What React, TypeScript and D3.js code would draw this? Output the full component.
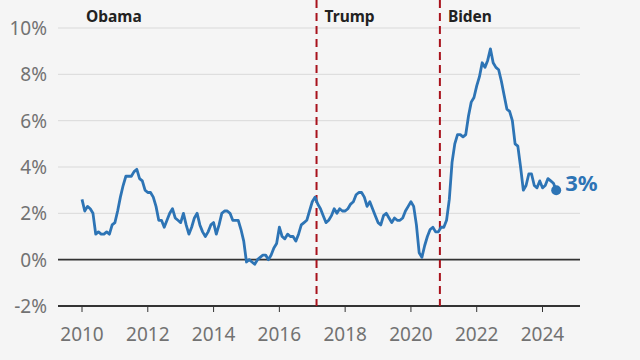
import { useEffect, useRef } from "react";
import * as d3 from "d3";

// US CPI inflation, year on year, monthly from Jan 2010
const years = [2010, 2011, 2012, 2013, 2014, 2015, 2016, 2017, 2018, 2019, 2020, 2021, 2022, 2023, 2024];
const monthly: number[][] = [
  [2.6, 2.1, 2.3, 2.2, 2.0, 1.1, 1.2, 1.1, 1.1, 1.2, 1.1, 1.5],
  [1.6, 2.1, 2.7, 3.2, 3.6, 3.6, 3.6, 3.8, 3.9, 3.5, 3.4, 3.0],
  [2.9, 2.9, 2.7, 2.3, 1.7, 1.7, 1.4, 1.7, 2.0, 2.2, 1.8, 1.7],
  [1.6, 2.0, 1.5, 1.1, 1.4, 1.8, 2.0, 1.5, 1.2, 1.0, 1.2, 1.5],
  [1.6, 1.1, 1.5, 2.0, 2.1, 2.1, 2.0, 1.7, 1.7, 1.7, 1.3, 0.8],
  [-0.1, 0.0, -0.1, -0.2, 0.0, 0.1, 0.2, 0.2, 0.0, 0.2, 0.5, 0.7],
  [1.4, 1.0, 0.9, 1.1, 1.0, 1.0, 0.8, 1.1, 1.5, 1.6, 1.7, 2.1],
  [2.5, 2.7, 2.4, 2.2, 1.9, 1.6, 1.7, 1.9, 2.2, 2.0, 2.2, 2.1],
  [2.1, 2.2, 2.4, 2.5, 2.8, 2.9, 2.9, 2.7, 2.3, 2.5, 2.2, 1.9],
  [1.6, 1.5, 1.9, 2.0, 1.8, 1.6, 1.8, 1.7, 1.7, 1.8, 2.1, 2.3],
  [2.5, 2.3, 1.5, 0.3, 0.1, 0.6, 1.0, 1.3, 1.4, 1.2, 1.2, 1.4],
  [1.4, 1.7, 2.6, 4.2, 5.0, 5.4, 5.4, 5.3, 5.4, 6.2, 6.8, 7.0],
  [7.5, 7.9, 8.5, 8.3, 8.6, 9.1, 8.5, 8.3, 8.2, 7.7, 7.1, 6.5],
  [6.4, 6.0, 5.0, 4.9, 4.0, 3.0, 3.2, 3.7, 3.7, 3.2, 3.1, 3.4],
  [3.1, 3.2, 3.5, 3.4, 3.3, 3.0],
];

const presidents = [
  { name: "Obama", start: 2009.05 },
  { name: "Trump", start: 2017.13 },
  { name: "Biden", start: 2020.88 },
];

const yTicks = [-2, 0, 2, 4, 6, 8, 10];
const xTicks = [2010, 2012, 2014, 2016, 2018, 2020, 2022, 2024];

type Pt = { t: number; v: number };

const width = 640;
const height = 360;
const margin = { top: 28, right: 60, bottom: 54, left: 58 };

const App = () => {
  const svgRef = useRef<SVGSVGElement>(null);

  useEffect(() => {
    if (!svgRef.current) return;
    const svg = d3.select(svgRef.current);
    svg.selectAll("*").remove();

    const data: Pt[] = [];
    years.forEach((y, i) => monthly[i].forEach((v, m) => data.push({ t: y + m / 12, v })));

    const x = d3.scaleLinear().domain([2009.27, 2025.14]).range([margin.left, width - margin.right]);
    const y = d3.scaleLinear().domain([-2, 10]).range([height - margin.bottom, margin.top]);

    svg.append("rect").attr("width", width).attr("height", height).attr("fill", "#f5f5f5");

    const font = "'Noto Sans', 'Open Sans', sans-serif";

    // grid lines
    svg
      .append("g")
      .selectAll("line")
      .data(yTicks)
      .enter()
      .append("line")
      .attr("x1", margin.left)
      .attr("x2", width - margin.right)
      .attr("y1", (d) => y(d))
      .attr("y2", (d) => y(d))
      .attr("stroke", (d) => (d === 0 || d === -2 ? "#333" : "#d9d9d9"))
      .attr("stroke-width", (d) => (d === 0 || d === -2 ? 1.8 : 1));

    // y labels
    svg
      .append("g")
      .selectAll("text")
      .data(yTicks)
      .enter()
      .append("text")
      .attr("x", 47)
      .attr("y", (d) => y(d))
      .attr("dy", "0.36em")
      .attr("text-anchor", "end")
      .attr("font-family", font)
      .attr("font-size", 19)
      .attr("fill", "#727272")
      .text((d) => `${d}%`);

    // x axis ticks
    const xa = svg.append("g").attr("transform", `translate(0,${y(-2)})`);
    xa.selectAll("line")
      .data(xTicks)
      .enter()
      .append("line")
      .attr("x1", (d) => x(d))
      .attr("x2", (d) => x(d))
      .attr("y1", 0)
      .attr("y2", 6)
      .attr("stroke", "#333")
      .attr("stroke-width", 1);
    xa.selectAll("text")
      .data(xTicks)
      .enter()
      .append("text")
      .attr("x", (d) => x(d))
      .attr("y", 35)
      .attr("text-anchor", "middle")
      .attr("font-family", font)
      .attr("font-size", 19)
      .attr("fill", "#727272")
      .text((d) => d);

    // president dividers
    svg
      .append("g")
      .selectAll("line")
      .data(presidents.slice(1))
      .enter()
      .append("line")
      .attr("x1", (d) => x(d.start))
      .attr("x2", (d) => x(d.start))
      .attr("y1", 0)
      .attr("y2", y(-2))
      .attr("stroke", "#a8121c")
      .attr("stroke-width", 2)
      .attr("stroke-dasharray", "8,5");

    svg
      .append("g")
      .selectAll("text")
      .data(presidents)
      .enter()
      .append("text")
      .attr("x", (d, i) => (i === 0 ? 86 : x(d.start) + 8))
      .attr("y", 22)
      .attr("font-family", font)
      .attr("font-weight", "bold")
      .attr("font-size", 15.5)
      .attr("fill", "#222")
      .text((d) => d.name);

    const line = d3
      .line<Pt>()
      .x((d) => x(d.t))
      .y((d) => y(d.v));

    svg
      .append("path")
      .datum(data)
      .attr("fill", "none")
      .attr("stroke", "#2d74b5")
      .attr("stroke-width", 2.8)
      .attr("stroke-linejoin", "round")
      .attr("d", line);

    const last = data[data.length - 1];
    svg
      .append("circle")
      .attr("cx", x(last.t))
      .attr("cy", y(last.v))
      .attr("r", 5)
      .attr("fill", "#2d74b5");
    svg
      .append("text")
      .attr("x", x(last.t) + 9)
      .attr("y", y(last.v) + 1)
      .attr("font-family", font)
      .attr("font-weight", "bold")
      .attr("font-size", 22)
      .attr("fill", "#2d74b5")
      .text(`${Math.round(last.v)}%`);
  }, []);

  return (
    <svg
      ref={svgRef}
      width={width}
      height={height}
      style={{ position: "absolute", left: 0, top: 0, display: "block" }}
    ></svg>
  );
};

export default App;
